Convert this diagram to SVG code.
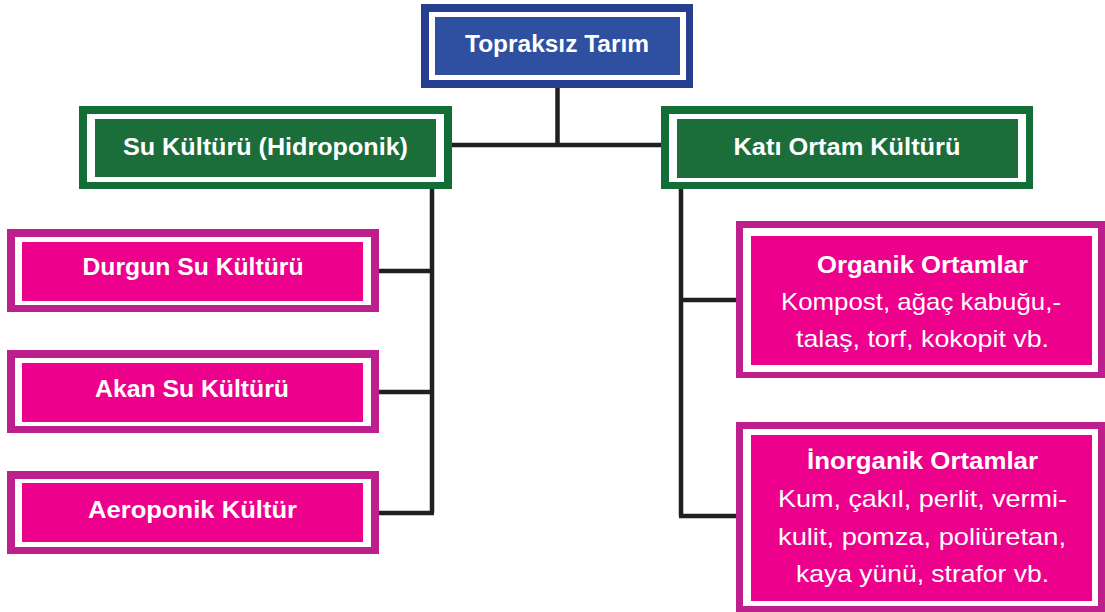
<svg xmlns="http://www.w3.org/2000/svg" width="1105" height="612" viewBox="0 0 1105 612">
<style>
.gap{fill:#ffffff}
.bo{fill:#273f8f}.bi{fill:#2f50a0}
.go{fill:#136d37}.gi{fill:#1b6e3a}
.po{fill:#bd1f8c}.pi{fill:#ec008c}
text{font-family:"Liberation Sans",Arial,sans-serif;fill:#ffffff;text-anchor:middle;font-size:24px}
.b{font-weight:bold}
.conn{fill:none;stroke:#231f20;stroke-width:4.5;stroke-linejoin:miter}
</style>
<rect width="1105" height="612" fill="#ffffff"/>
<g id="connectors" class="conn">
<path d="M557.5,88V145M452,145H662"/>
<path d="M432,189V513M379,271H432M379,392H432M379,513H434"/>
<path d="M681,189V516M681,300H736M679,516H736"/>
</g>
<g id="n-topraksiz">
<rect class="bo" x="421" y="4" width="272" height="84"/>
<rect class="gap" x="429" y="12" width="257" height="68"/>
<rect class="bi" x="435" y="17" width="245" height="58"/>
<text class="b" x="557" y="52" textLength="184" lengthAdjust="spacingAndGlyphs">Topraksız Tarım</text>
</g>
<g id="n-su">
<rect class="go" x="79" y="106" width="373" height="83"/>
<rect class="gap" x="87" y="114" width="357" height="68"/>
<rect class="gi" x="95" y="119" width="341" height="58"/>
<text class="b" x="265.5" y="155" textLength="285" lengthAdjust="spacingAndGlyphs">Su Kültürü (Hidroponik)</text>
</g>
<g id="n-kati">
<rect class="go" x="661" y="106" width="372" height="83"/>
<rect class="gap" x="669" y="114" width="357" height="68"/>
<rect class="gi" x="677" y="119" width="341" height="59"/>
<text class="b" x="847" y="155" textLength="227" lengthAdjust="spacingAndGlyphs">Katı Ortam Kültürü</text>
</g>
<g id="n-durgun">
<rect class="po" x="7" y="229" width="372" height="83"/>
<rect class="gap" x="15" y="237" width="356" height="68"/>
<rect class="pi" x="22" y="242" width="341" height="59"/>
<text class="b" x="193" y="275" textLength="221" lengthAdjust="spacingAndGlyphs">Durgun Su Kültürü</text>
</g>
<g id="n-akan">
<rect class="po" x="7" y="350" width="372" height="83"/>
<rect class="gap" x="15" y="358" width="356" height="68"/>
<rect class="pi" x="22" y="363" width="341" height="59"/>
<text class="b" x="192" y="397" textLength="194" lengthAdjust="spacingAndGlyphs">Akan Su Kültürü</text>
</g>
<g id="n-aero">
<rect class="po" x="7" y="471" width="372" height="83"/>
<rect class="gap" x="15" y="479" width="356" height="68"/>
<rect class="pi" x="22" y="483" width="341" height="59"/>
<text class="b" x="192.5" y="518" textLength="209" lengthAdjust="spacingAndGlyphs">Aeroponik Kültür</text>
</g>
<g id="n-organik">
<rect class="po" x="736" y="221" width="369" height="157"/>
<rect class="gap" x="743" y="228" width="355" height="144"/>
<rect class="pi" x="751" y="236" width="341" height="129"/>
<text class="b" x="922.5" y="273" textLength="211" lengthAdjust="spacingAndGlyphs">Organik Ortamlar</text>
<text x="921" y="310" textLength="280" lengthAdjust="spacingAndGlyphs">Kompost, ağaç kabuğu,-</text>
<text x="922.5" y="347" textLength="253" lengthAdjust="spacingAndGlyphs">talaş, torf, kokopit vb.</text>
</g>
<g id="n-inorganik">
<rect class="po" x="736" y="422" width="369" height="190"/>
<rect class="gap" x="743" y="429" width="355" height="177"/>
<rect class="pi" x="751" y="435" width="341" height="166"/>
<text class="b" x="922.5" y="469" textLength="231" lengthAdjust="spacingAndGlyphs">İnorganik Ortamlar</text>
<text x="922.5" y="507" textLength="289" lengthAdjust="spacingAndGlyphs">Kum, çakıl, perlit, vermi-</text>
<text x="922" y="545" textLength="288" lengthAdjust="spacingAndGlyphs">kulit, pomza, poliüretan,</text>
<text x="922.5" y="582" textLength="253" lengthAdjust="spacingAndGlyphs">kaya yünü, strafor vb.</text>
</g>
</svg>
